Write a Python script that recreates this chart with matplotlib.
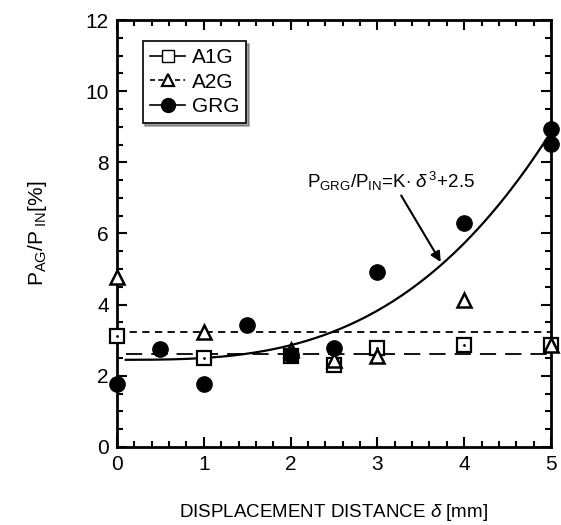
import numpy as np
import matplotlib
matplotlib.use("Agg")
import matplotlib.pyplot as plt
from matplotlib.lines import Line2D

plt.rcParams['font.family'] = ['Liberation Sans', 'DejaVu Sans']
plt.rcParams['mathtext.fontset'] = 'custom'
plt.rcParams['mathtext.rm'] = 'Liberation Sans'
plt.rcParams['mathtext.it'] = 'Liberation Sans:italic'

# data
x_a1g = [0, 1, 2, 2.5, 3, 4, 5]
y_a1g = [3.12, 2.5, 2.56, 2.3, 2.78, 2.87, 2.87]
x_a2g = [0, 1, 2, 2.5, 3, 4, 5]
y_a2g = [4.78, 3.24, 2.72, 2.44, 2.55, 4.13, 2.87]
x_grg = [0, 0.5, 1, 1.5, 2, 2.5, 3, 4, 5, 5]
y_grg = [1.77, 2.75, 1.77, 3.43, 2.58, 2.78, 4.92, 6.29, 8.93, 8.51]
a1g_level = 2.61
a2g_level = 3.24
K = 0.0512
c0 = 2.45

fig = plt.figure(figsize=(5.61, 5.25), dpi=100)
ax = fig.add_axes([0.2086, 0.1486, 0.7735, 0.8133])

# fit lines
ax.plot([0.1, 5], [a1g_level, a1g_level], color='k', lw=1.3, ls=(0, (9, 5)))
ax.plot([0, 5], [a2g_level, a2g_level], color='k', lw=1.3, ls=(0, (4, 3)))
xs = np.linspace(0.1, 5, 200)
ax.plot(xs, K * xs**3 + c0, color='k', lw=1.6)

# markers
ax.plot(x_a2g, y_a2g, ls='none', marker='^', ms=10, mfc='white', mec='k', mew=1.8, clip_on=False, zorder=4)
ax.plot(x_a1g, y_a1g, ls='none', marker='s', ms=10, mfc='white', mec='k', mew=1.6, clip_on=False, zorder=3)
ax.plot(x_a1g, y_a1g, ls='none', marker='.', ms=2, color='k', clip_on=False, zorder=3)
ax.plot(x_grg, y_grg, ls='none', marker='o', ms=11, color='k', clip_on=False, zorder=5)

ax.set_xlim(0, 5)
ax.set_ylim(0, 12)
ax.set_xticks(range(0, 6))
ax.set_yticks(range(0, 13, 2))
ax.set_xticks(np.arange(0, 5.01, 0.2), minor=True)
ax.set_yticks(np.arange(0, 12.01, 0.5), minor=True)
ax.tick_params(which='both', direction='in', top=True, right=True, labelsize=15, width=1.5)
ax.tick_params(which='major', length=7, pad=6)
ax.tick_params(which='minor', length=4)
for s in ax.spines.values():
    s.set_linewidth(2)

ax.set_xlabel(r'DISPLACEMENT DISTANCE $\delta$ [mm]', fontsize=13.5, labelpad=20)
ax.set_ylabel(r'P$_{\rm AG}$/P$_{\rm \ IN}$[%]', fontsize=15, labelpad=26)

ax.annotate(r'P$_{\rm GRG}$/P$_{\rm IN}$=K$\cdot$ $\delta^{\,3}$+2.5', xy=(3.73, 5.2), xytext=(2.19, 7.47),
            fontsize=13.5, va='center', ha='left',
            arrowprops=dict(arrowstyle='-|>', color='k', lw=1.5, mutation_scale=15,
                            shrinkA=0, shrinkB=0, relpos=(0.55, 0.0)))

handles = [
    Line2D([], [], color='k', lw=1.2, marker='s', ms=9, mfc='white', mec='k'),
    Line2D([], [], color='k', lw=1.2, ls=(0, (3, 2)), marker='^', ms=9, mfc='white', mec='k', mew=1.6),
    Line2D([], [], color='k', lw=1.2, marker='o', ms=10),
]
leg = ax.legend(handles, ['A1G', 'A2G', 'GRG'], loc='upper left', bbox_to_anchor=(0.035, 0.975),
                fontsize=15, fancybox=False, shadow=True, edgecolor='k', handlelength=1.7,
                handletextpad=0.3, borderpad=0.35, labelspacing=0.25)
leg.get_frame().set_linewidth(1.2)

fig.savefig('out.png', dpi=100)
